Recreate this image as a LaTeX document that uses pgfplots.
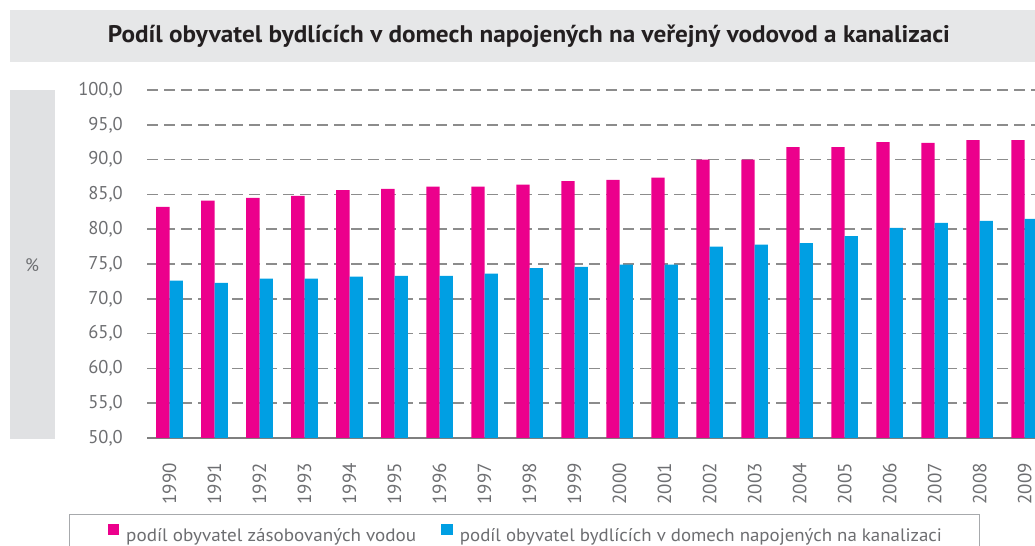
\documentclass[border=0pt]{standalone}
\usepackage{pgfplots}
\pgfplotsset{compat=1.18}
\usepackage{pgfplotstable}
\usepackage{fontspec}
\setmainfont{PT Sans}
\definecolor{pinkc}{HTML}{EC008C}
\definecolor{bluec}{HTML}{009FE3}
\definecolor{txtgray}{HTML}{6D6E71}
\definecolor{gridgray}{HTML}{8C8C8C}
\definecolor{axisgray}{HTML}{7F7F7F}
\definecolor{bandgray}{HTML}{E6E7E8}
\definecolor{ybandgray}{HTML}{E0E1E3}
\definecolor{legframe}{HTML}{A7A9AC}
\definecolor{titlec}{HTML}{231F20}

\pgfplotstableread{
x pink blue
0 83.2 72.6
1 84.1 72.3
2 84.5 72.9
3 84.8 72.9
4 85.6 73.2
5 85.8 73.3
6 86.1 73.3
7 86.1 73.6
8 86.4 74.4
9 86.9 74.6
10 87.1 74.9
11 87.4 74.9
12 90.0 77.5
13 90.0 77.8
14 91.8 78.0
15 91.8 79.0
16 92.5 80.2
17 92.4 80.9
18 92.8 81.2
19 92.8 81.5
}\datatable

\begin{document}
\begin{tikzpicture}
\useasboundingbox (0bp,0bp) rectangle (1035bp,546bp);
% title band
\fill[bandgray] (10bp,484bp) rectangle (1040bp,536bp);
\node[text=titlec, inner sep=0pt] at (529bp,510bp) {\fontsize{24bp}{28bp}\selectfont\bfseries\resizebox{842bp}{\height}{Podíl obyvatel bydlících v domech napojených na veřejný vodovod a kanalizaci}};
% y label band
\fill[ybandgray] (10bp,107bp) rectangle (55bp,456bp);
\node[text=txtgray, inner sep=0pt] at (32bp,281bp) {\fontsize{18bp}{20bp}\selectfont \%};
\begin{axis}[
  at={(147bp,108bp)}, anchor=south west,
  scale only axis, width=888bp, height=348bp,
  xmin=-0.5, xmax=19.23, ymin=50, ymax=100,
  ytick={50,55,...,100},
  xtick={0,...,19},
  xticklabels={1990,1991,1992,1993,1994,1995,1996,1997,1998,1999,2000,2001,2002,2003,2004,2005,2006,2007,2008,2009},
  ybar=0pt, bar width=13.3bp,
  axis lines*=left,
  y axis line style={draw=none},
  x axis line style={draw=axisgray, line width=2bp},
  major tick length=0pt,
  ymajorgrids,
  grid style={dash pattern=on 11bp off 6bp, gridgray, line width=1.5bp},
  yticklabel style={font=\fontsize{18.5bp}{20bp}\selectfont, text=txtgray, anchor=east, inner sep=0pt, xshift=-24bp},
  y tick label style={/pgf/number format/fixed, /pgf/number format/fixed zerofill, /pgf/number format/precision=1, /pgf/number format/use comma, /pgf/number format/assume math mode=true},
  xticklabel style={font=\fontsize{19bp}{20bp}\selectfont, text=txtgray, inner sep=0pt, yshift=-25bp, rotate=90, anchor=east},
  legend columns=2,
  legend style={at={(-0.0878,-0.2184)}, anchor=north west, draw=legframe, line width=1bp, fill=white,
    inner xsep=38bp, inner ysep=9bp, column sep=7bp,
    nodes={inner sep=0pt, text=txtgray},
    font=\fontsize{18bp}{21bp}\selectfont,
    /tikz/every even column/.append style={column sep=25bp}},
]
\addplot[fill=pinkc, draw=none, legend image code/.code={\fill[pinkc] (0bp,0.8bp) rectangle (11.7bp,12.5bp);}] table[x=x, y=pink] {\datatable};
\addlegendentry{\resizebox{290bp}{\height}{podíl obyvatel zásobovaných vodou}}
\addplot[fill=bluec, draw=none, legend image code/.code={\fill[bluec] (0bp,0.8bp) rectangle (11.7bp,12.5bp);}] table[x=x, y=blue] {\datatable};
\addlegendentry{\resizebox{482bp}{\height}{podíl obyvatel bydlících v domech napojených na kanalizaci}}
\end{axis}
\end{tikzpicture}
\end{document}
